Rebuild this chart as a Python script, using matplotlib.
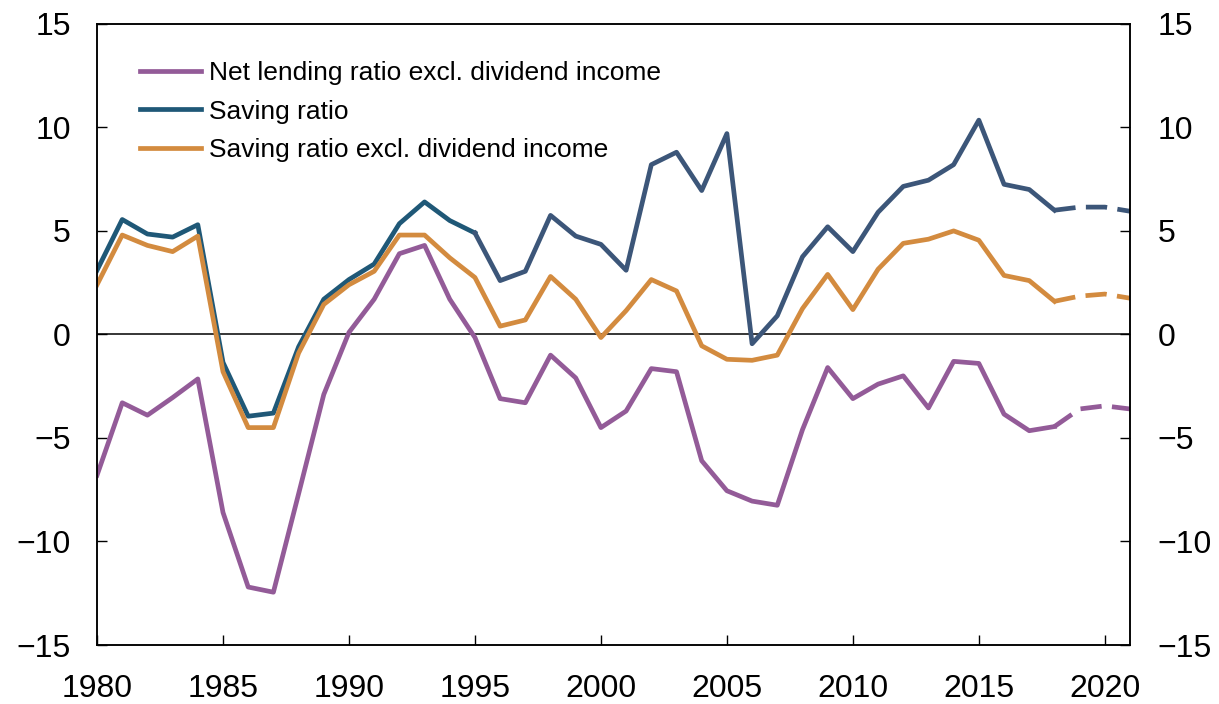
import matplotlib.pyplot as plt

plt.rcParams['font.family'] = ['Liberation Sans', 'DejaVu Sans']

years = list(range(1980, 2022))

# Saving ratio
saving = [3.1, 5.55, 4.85, 4.7, 5.3, -1.35, -3.95, -3.8, -0.6, 1.7,
          2.65, 3.4, 5.35, 6.4, 5.5, 4.9, 2.6, 3.05, 5.75, 4.75,
          4.35, 3.1, 8.2, 8.8, 6.95, 9.7, -0.45, 0.9, 3.75, 5.2,
          4.0, 5.9, 7.15, 7.45, 8.2, 10.35, 7.25, 7.0, 6.0, 6.15,
          6.15, 5.95]

# Saving ratio excl. dividend income
saving_excl = [2.4, 4.8, 4.3, 4.0, 4.75, -1.8, -4.5, -4.5, -0.9, 1.45,
               2.4, 3.05, 4.8, 4.8, 3.7, 2.75, 0.4, 0.7, 2.8, 1.7,
               -0.15, 1.15, 2.65, 2.1, -0.55, -1.2, -1.25, -1.0, 1.25, 2.9,
               1.2, 3.15, 4.4, 4.6, 5.0, 4.55, 2.85, 2.6, 1.6, 1.85,
               1.95, 1.75]

# Net lending ratio excl. dividend income
net_lending = [-6.8, -3.3, -3.9, -3.05, -2.15, -8.6, -12.2, -12.45, -7.7, -2.9,
               0.1, 1.7, 3.9, 4.3, 1.7, -0.15, -3.1, -3.3, -1.0, -2.1,
               -4.5, -3.7, -1.65, -1.8, -6.1, -7.55, -8.05, -8.25, -4.6, -1.6,
               -3.1, -2.4, -2.0, -3.55, -1.3, -1.4, -3.85, -4.65, -4.45, -3.6,
               -3.45, -3.6]

forecast_start = 2018
purple = '#935b98'
blue = '#1f5877'
blue2 = '#3c5679'
orange = '#d38b3f'

fig = plt.figure(figsize=(12.19, 7.04), dpi=100)
ax = fig.add_axes([0.0796, 0.0838, 0.8474, 0.8823])

ax.axhline(0, color='black', lw=1.1, zorder=1)

cut = years.index(forecast_start) + 1
split = years.index(1995) + 1
lw = 3.4
dash = (4.5, 2.2)

ax.plot(years[:cut], net_lending[:cut], color=purple, lw=lw,
        label='Net lending ratio excl. dividend income')
ax.plot(years[cut - 1:], net_lending[cut - 1:], color=purple, lw=lw, dashes=dash)

ax.plot(years[:split], saving[:split], color=blue, lw=lw, label='Saving ratio')
ax.plot(years[split - 1:cut], saving[split - 1:cut], color=blue2, lw=lw)
ax.plot(years[cut - 1:], saving[cut - 1:], color=blue2, lw=lw, dashes=dash)

ax.plot(years[:cut], saving_excl[:cut], color=orange, lw=lw,
        label='Saving ratio excl. dividend income')
ax.plot(years[cut - 1:], saving_excl[cut - 1:], color=orange, lw=lw, dashes=dash)

ax.set_xlim(1980, 2021)
ax.set_ylim(-15, 15)
ax.set_xticks(range(1980, 2021, 5))
ax.set_yticks(range(-15, 16, 5))

ax2 = ax.twinx()
ax2.set_ylim(-15, 15)
ax2.set_yticks(range(-15, 16, 5))

for a in (ax, ax2):
    for s in a.spines.values():
        s.set_linewidth(1.1)
ax.tick_params(axis='both', direction='in', length=7, width=1, labelsize=23)
ax.tick_params(axis='x', pad=21)
ax.tick_params(axis='y', pad=19)
ax2.tick_params(axis='y', direction='in', length=7, width=1, labelsize=23, pad=20)

ax.legend(loc='upper left', bbox_to_anchor=(0.042, 0.94), frameon=False,
          fontsize=19, handlelength=2.3, handletextpad=0.3,
          labelspacing=0.55, borderpad=0, borderaxespad=0)

fig.savefig('out.png', dpi=100)
